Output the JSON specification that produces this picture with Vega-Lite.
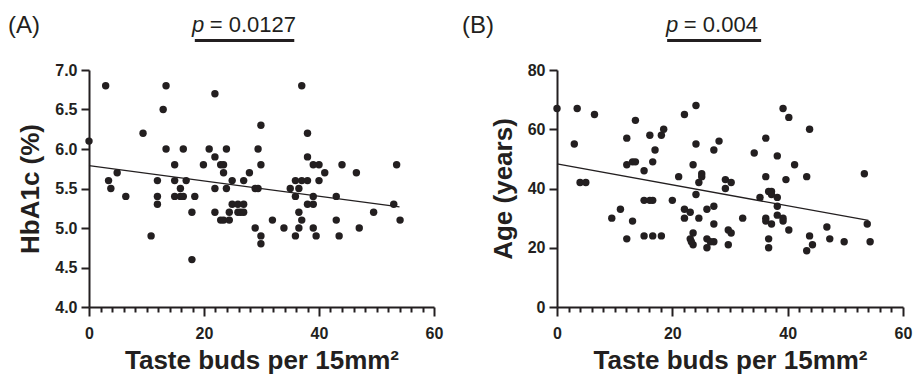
{
  "$schema": "https://vega.github.io/schema/vega-lite/v6.json",
  "padding": {"left": 8, "top": 14, "right": 4, "bottom": 4},
  "spacing": 19,
  "config": {
    "view": {"stroke": null},
    "font": "Liberation Sans",
    "title": {"font": "Liberation Sans", "fontSize": 24, "fontWeight": "normal", "color": "#231f20", "anchor": "start", "frame": "group"},
    "axis": {
      "domainColor": "#231f20", "domainWidth": 2, "tickColor": "#231f20", "tickWidth": 2,
      "labelFont": "Liberation Sans", "labelFontWeight": "bold", "labelFontSize": 16, "labelColor": "#231f20",
      "titleFont": "Liberation Sans", "titleFontWeight": "bold", "titleFontSize": 26, "titleColor": "#231f20",
      "grid": false, "labelOverlap": false
    }
  },
  "datasets": {
    "hba": [
      {"x":0,"y":6.1},{"x":2.9,"y":6.8},{"x":3.4,"y":5.6},{"x":3.8,"y":5.5},{"x":4.9,"y":5.7},{"x":6.4,"y":5.4},{"x":9.4,"y":6.2},{"x":10.8,"y":4.9},{"x":11.9,"y":5.6},{"x":11.9,"y":5.4},{"x":11.9,"y":5.3},{"x":12.9,"y":6.5},{"x":13.4,"y":6.8},{"x":13.4,"y":6.0},{"x":14.9,"y":5.8},{"x":14.9,"y":5.6},{"x":14.9,"y":5.4},{"x":15.9,"y":5.5},{"x":15.9,"y":5.4},{"x":16.4,"y":5.4},{"x":16.4,"y":6.0},{"x":16.9,"y":5.6},{"x":17.9,"y":5.2},{"x":17.9,"y":4.6},{"x":18.4,"y":5.4},{"x":19.9,"y":5.8},{"x":20.9,"y":6.0},{"x":21.9,"y":6.7},{"x":21.9,"y":5.9},{"x":21.9,"y":5.5},{"x":21.9,"y":5.2},{"x":22.9,"y":5.8},{"x":23.4,"y":5.8},{"x":23.4,"y":5.7},{"x":22.9,"y":5.1},{"x":23.4,"y":5.1},{"x":23.9,"y":6.0},{"x":23.9,"y":5.5},{"x":24.4,"y":5.2},{"x":24.4,"y":5.1},{"x":24.9,"y":5.6},{"x":24.9,"y":5.3},{"x":25.9,"y":5.3},{"x":25.9,"y":5.2},{"x":26.4,"y":5.2},{"x":26.9,"y":5.3},{"x":26.9,"y":5.2},{"x":26.9,"y":5.6},{"x":27.9,"y":5.7},{"x":28.9,"y":5.5},{"x":29.4,"y":5.5},{"x":28.9,"y":5.0},{"x":29.4,"y":6.0},{"x":29.9,"y":6.3},{"x":29.9,"y":5.8},{"x":29.9,"y":4.9},{"x":29.9,"y":4.8},{"x":31.9,"y":5.1},{"x":33.9,"y":5.0},{"x":35.0,"y":5.5},{"x":35.9,"y":5.6},{"x":35.9,"y":5.4},{"x":35.9,"y":4.9},{"x":36.5,"y":5.5},{"x":36.5,"y":5.2},{"x":36.5,"y":5.0},{"x":37.0,"y":5.6},{"x":37.0,"y":6.8},{"x":37.0,"y":5.1},{"x":38.0,"y":6.2},{"x":38.0,"y":5.9},{"x":38.0,"y":5.6},{"x":38.0,"y":5.3},{"x":39.0,"y":5.8},{"x":39.0,"y":5.4},{"x":39.0,"y":5.3},{"x":39.0,"y":5.0},{"x":39.5,"y":4.9},{"x":40.0,"y":5.8},{"x":40.0,"y":5.6},{"x":41.0,"y":5.7},{"x":43.0,"y":5.4},{"x":43.0,"y":5.1},{"x":43.5,"y":4.9},{"x":44.0,"y":5.8},{"x":46.5,"y":5.7},{"x":47.0,"y":5.0},{"x":49.5,"y":5.2},{"x":53.0,"y":5.3},{"x":53.5,"y":5.8},{"x":54.1,"y":5.1}
    ],
    "age": [
      {"x":0,"y":67},{"x":3.0,"y":55},{"x":3.5,"y":67},{"x":4.0,"y":42},{"x":5.0,"y":42},{"x":6.5,"y":65},{"x":9.5,"y":30},{"x":11.0,"y":33},{"x":12.1,"y":57},{"x":12.1,"y":48},{"x":12.1,"y":23},{"x":13.1,"y":29},{"x":13.1,"y":49},{"x":13.6,"y":49},{"x":13.6,"y":63},{"x":15.1,"y":46},{"x":15.1,"y":36},{"x":15.1,"y":24},{"x":16.1,"y":58},{"x":16.1,"y":36},{"x":16.6,"y":36},{"x":16.6,"y":49},{"x":16.6,"y":24},{"x":17.0,"y":53},{"x":18.1,"y":58},{"x":18.5,"y":60},{"x":18.1,"y":24},{"x":20.0,"y":36},{"x":21.1,"y":44},{"x":22.1,"y":65},{"x":22.1,"y":33},{"x":22.1,"y":30},{"x":23.1,"y":32},{"x":23.6,"y":25},{"x":23.1,"y":23},{"x":23.6,"y":21},{"x":23.3,"y":22},{"x":23.6,"y":48},{"x":24.1,"y":68},{"x":24.1,"y":55},{"x":24.1,"y":38},{"x":24.6,"y":30},{"x":24.6,"y":42},{"x":25.1,"y":45},{"x":25.1,"y":44},{"x":26.0,"y":33},{"x":26.0,"y":20},{"x":26.0,"y":23},{"x":27.2,"y":53},{"x":27.2,"y":34},{"x":27.2,"y":28},{"x":27.2,"y":22},{"x":26.6,"y":22},{"x":28.1,"y":56},{"x":29.2,"y":43},{"x":29.2,"y":40},{"x":30.2,"y":42},{"x":29.7,"y":26},{"x":30.2,"y":25},{"x":29.7,"y":21},{"x":32.2,"y":30},{"x":34.2,"y":52},{"x":35.2,"y":37},{"x":36.2,"y":57},{"x":36.2,"y":44},{"x":36.2,"y":30},{"x":36.2,"y":29},{"x":36.7,"y":39},{"x":37.2,"y":39},{"x":37.2,"y":38},{"x":36.7,"y":23},{"x":36.7,"y":20},{"x":37.2,"y":28},{"x":38.2,"y":51},{"x":38.2,"y":37},{"x":38.2,"y":34},{"x":38.2,"y":31},{"x":39.2,"y":67},{"x":39.2,"y":30},{"x":39.2,"y":29},{"x":40.2,"y":64},{"x":39.7,"y":43},{"x":40.2,"y":26},{"x":41.2,"y":48},{"x":43.3,"y":44},{"x":43.8,"y":60},{"x":43.8,"y":24},{"x":44.3,"y":21},{"x":43.3,"y":19},{"x":46.8,"y":27},{"x":47.3,"y":23},{"x":49.8,"y":22},{"x":53.3,"y":45},{"x":53.8,"y":28},{"x":54.3,"y":22}
    ],
    "annA": [
      {"part": "bar", "x": 18.4, "x2": 35.7, "y": 7.373},
      {"part": "p", "x": 17.9, "y": 7.48, "text": "p"},
      {"part": "val", "x": 21.0, "y": 7.48, "text": "= 0.0127"}
    ],
    "annB": [
      {"part": "bar", "x": 19.1, "x2": 35.4, "y": 90},
      {"part": "p", "x": 18.9, "y": 92.8, "text": "p"},
      {"part": "val", "x": 22.0, "y": 92.8, "text": "= 0.004"}
    ]
  },
  "hconcat": [
    {
      "width": 345, "height": 237,
      "title": {"text": "(A)", "dx": -81, "offset": -24},
      "encoding": {
        "x": {"field": "x", "type": "quantitative", "scale": {"domain": [0, 60], "nice": false},
          "axis": {"title": "Taste buds per 15mm²", "values": [0,2,4,6,8,10,12,14,16,18,20,22,24,26,28,30,32,34,36,38,40,42,44,46,48,50,52,54,56,58,60],
            "labelExpr": "datum.value % 20 === 0 ? datum.label : ''", "labelOverlap": false, "labelBound": false, "labelFlush": false,
            "tickSize": {"condition": {"test": "datum.value % 20 === 0", "value": 9}, "value": 5},
            "labelPadding": 9, "titlePadding": 6}},
        "y": {"field": "y", "type": "quantitative", "scale": {"domain": [4, 7], "zero": false, "nice": false},
          "axis": {"title": "HbA1c (%)", "values": [4,4.5,5,5.5,6,6.5,7], "format": ".1f", "labelOverlap": false, "labelFlush": false, "tickSize": 8, "labelPadding": 4, "titlePadding": 11}}
      },
      "layer": [
        {
          "data": {"name": "hba"},
          "mark": {"type": "circle", "size": 55, "opacity": 1, "color": "#231f20"}
        },
        {
          "data": {"name": "hba"},
          "transform": [{"regression": "y", "on": "x", "extent": [0, 54]}],
          "mark": {"type": "line", "strokeWidth": 1.3, "color": "#231f20"}
        },
        {
          "data": {"name": "annA"},
          "transform": [{"filter": "datum.part === 'bar'"}],
          "mark": {"type": "rule", "strokeWidth": 3, "color": "#231f20"},
          "encoding": {"x2": {"field": "x2"}}
        },
        {
          "data": {"name": "annA"},
          "transform": [{"filter": "datum.part === 'p'"}],
          "mark": {"type": "text", "fontSize": 22, "fontStyle": "italic", "align": "left", "baseline": "alphabetic", "color": "#231f20"},
          "encoding": {"text": {"field": "text"}}
        },
        {
          "data": {"name": "annA"},
          "transform": [{"filter": "datum.part === 'val'"}],
          "mark": {"type": "text", "fontSize": 22, "align": "left", "baseline": "alphabetic", "color": "#231f20"},
          "encoding": {"text": {"field": "text"}}
        }
      ]
    },
    {
      "width": 346, "height": 237,
      "title": {"text": "(B)", "dx": -95, "offset": -24},
      "encoding": {
        "x": {"field": "x", "type": "quantitative", "scale": {"domain": [0, 60], "nice": false},
          "axis": {"title": "Taste buds per 15mm²", "values": [0,2,4,6,8,10,12,14,16,18,20,22,24,26,28,30,32,34,36,38,40,42,44,46,48,50,52,54,56,58,60],
            "labelExpr": "datum.value % 20 === 0 ? datum.label : ''", "labelOverlap": false, "labelBound": false, "labelFlush": false,
            "tickSize": {"condition": {"test": "datum.value % 20 === 0", "value": 9}, "value": 5},
            "labelPadding": 9, "titlePadding": 6}},
        "y": {"field": "y", "type": "quantitative", "scale": {"domain": [0, 80], "nice": false},
          "axis": {"title": "Age  (years)", "values": [0,20,40,60,80], "labelOverlap": false, "labelFlush": false, "tickSize": 8, "labelPadding": 4, "titlePadding": 11}}
      },
      "layer": [
        {
          "data": {"name": "age"},
          "mark": {"type": "circle", "size": 55, "opacity": 1, "color": "#231f20"}
        },
        {
          "data": {"name": "age"},
          "transform": [{"regression": "y", "on": "x", "extent": [0, 54]}],
          "mark": {"type": "line", "strokeWidth": 1.3, "color": "#231f20"}
        },
        {
          "data": {"name": "annB"},
          "transform": [{"filter": "datum.part === 'bar'"}],
          "mark": {"type": "rule", "strokeWidth": 3, "color": "#231f20"},
          "encoding": {"x2": {"field": "x2"}}
        },
        {
          "data": {"name": "annB"},
          "transform": [{"filter": "datum.part === 'p'"}],
          "mark": {"type": "text", "fontSize": 22, "fontStyle": "italic", "align": "left", "baseline": "alphabetic", "color": "#231f20"},
          "encoding": {"text": {"field": "text"}}
        },
        {
          "data": {"name": "annB"},
          "transform": [{"filter": "datum.part === 'val'"}],
          "mark": {"type": "text", "fontSize": 22, "align": "left", "baseline": "alphabetic", "color": "#231f20"},
          "encoding": {"text": {"field": "text"}}
        }
      ]
    }
  ]
}
